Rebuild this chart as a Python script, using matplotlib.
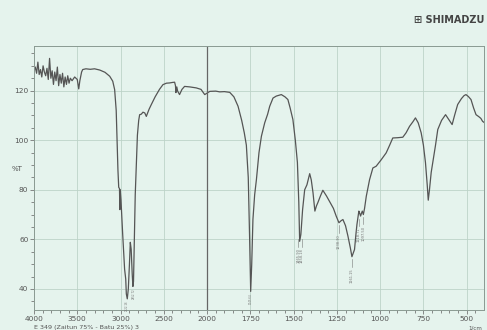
""" FTIR spectrum, Shimadzu style
"""

import matplotlib.pyplot as plt
import numpy as np

# wavenumber (1/cm) and transmittance (%T)
wavenumber = [4000, 3985, 3970, 3955, 3940, 3925, 3910, 3895, 3880, 3865,
              3850, 3835, 3820, 3805, 3790, 3775, 3760, 3745, 3730, 3715,
              3700, 3685, 3670, 3655, 3640, 3625, 3610, 3595, 3580, 3560,
              3530, 3500, 3483, 3470, 3450, 3437, 3400, 3350, 3300, 3240,
              3180, 3125, 3090, 3068, 3050, 3040, 3030, 3021, 3012, 3008,
              3004, 2995, 2975, 2953, 2940, 2933, 2922, 2910, 2897, 2887,
              2877, 2865, 2857, 2850, 2840, 2830, 2818, 2805, 2790, 2779,
              2760, 2741, 2720, 2702, 2670, 2644, 2600, 2550, 2510, 2470,
              2433, 2400, 2375, 2365, 2360, 2350, 2340, 2318, 2290, 2260,
              2200, 2125, 2070, 2027, 2000, 1984, 1950, 1927, 1900, 1869,
              1845, 1821, 1800, 1785, 1773, 1762, 1754, 1748, 1742, 1735,
              1725, 1715, 1700, 1686, 1667, 1650, 1638, 1619, 1600, 1571,
              1550, 1533, 1520, 1504, 1490, 1478, 1470, 1465, 1458, 1448,
              1436, 1423, 1407, 1398, 1388, 1377, 1368, 1360, 1345, 1331,
              1310, 1293, 1270, 1254, 1238, 1226, 1215, 1200, 1186, 1172,
              1163, 1155, 1148, 1140, 1134, 1123, 1118, 1113, 1108, 1103,
              1097, 1090, 1080, 1061, 1042, 1023, 995, 965, 945, 927,
              900, 869, 850, 830, 810, 796, 780, 763, 750, 738,
              728, 722, 715, 705, 696, 680, 667, 645, 622, 600,
              584, 570, 552, 530, 515, 504, 490, 475, 460, 446,
              430, 418, 408, 400]
transmittance = [128.0, 129.5, 127.0, 131.5, 126.5, 128.5, 125.5, 130.0, 127.5, 126.0,
                 129.0, 124.5, 133.0, 125.0, 128.0, 122.5, 127.5, 124.0, 129.5, 122.0,
                 126.5, 123.0, 127.0, 121.5, 125.5, 122.5, 126.0, 123.0, 125.0, 124.0,
                 125.5, 124.5, 120.7, 124.0, 127.5, 128.5, 128.8, 128.6, 128.8, 128.3,
                 127.4, 125.8, 123.8, 120.4, 112.0, 100.0, 88.0, 81.0, 80.5, 72.0,
                 80.0, 76.0, 62.0, 48.0, 44.0, 38.0, 36.0, 40.0, 50.0, 58.8,
                 56.0, 46.0, 41.0, 43.0, 60.0, 78.0, 90.0, 102.0, 108.0, 110.3,
                 110.5, 111.3, 111.0, 109.6, 112.5, 114.4, 117.5, 120.5, 122.4, 123.0,
                 123.1, 123.3, 123.4, 122.0, 119.2, 121.5, 119.8, 118.4, 120.5, 121.7,
                 121.5, 121.1, 120.5, 118.4, 119.0, 119.7, 119.8, 119.5, 119.6, 119.3,
                 117.5, 113.7, 108.0, 103.0, 98.0, 85.0, 60.0, 39.0, 50.0, 68.0,
                 78.0, 84.0, 95.0, 101.6, 107.0, 110.5, 113.7, 117.0, 117.8, 118.4,
                 117.5, 116.4, 113.0, 108.3, 100.0, 91.0, 75.0, 59.2, 62.0, 72.0,
                 80.0, 82.0, 86.5, 84.0, 78.9, 71.4, 73.5, 74.8, 77.5, 79.8,
                 77.5, 75.4, 72.5, 69.4, 66.7, 67.5, 68.0, 65.5, 61.3, 56.5,
                 53.0, 54.5, 55.9, 62.0, 66.0, 71.4, 70.5, 69.4, 70.5, 71.4,
                 70.0, 72.5, 77.4, 84.1, 88.8, 89.5, 92.0, 94.9, 98.0, 100.9,
                 101.0, 101.2, 103.0, 105.6, 107.5, 109.0, 107.0, 103.0, 98.0, 90.9,
                 82.0, 75.8, 80.0, 87.0, 90.9, 98.0, 104.3, 108.0, 110.3, 108.0,
                 106.3, 110.0, 114.4, 116.8, 118.0, 118.4, 117.6, 116.4, 113.0, 110.3,
                 109.5, 108.8, 107.6, 107.2]

# labelled peaks
peak_wn = [2922, 2852, 1745, 1472, 1452, 1238, 1163, 1122, 1097]
peak_t = [36.0, 41.0, 39.0, 61.0, 61.0, 66.7, 53.0, 69.4, 70.0]
peak_text = ['2922.16', '2852.72', '1745.64', '1465.90', '1458.18',
             '1238.30', '1161.15', '1118.71', '1097.50']

x_major = [4000, 3500, 3000, 2500, 2000, 1750, 1500, 1250, 1000, 750, 500]
y_major = [40, 60, 80, 100, 120]


def forward(x):
    x = np.asarray(x, dtype=float)
    return np.where(x >= 2000, x, 2000 - (2000 - x) * 2)


def inverse(p):
    p = np.asarray(p, dtype=float)
    return np.where(p >= 2000, p, 2000 - (2000 - p) / 2)


bg = '#e5f3ed'
fig = plt.figure(figsize=(4.87, 3.3), dpi=100, facecolor=bg)
ax = fig.add_axes([0.0698, 0.0606, 0.924, 0.8])
ax.set_facecolor(bg)

ax.set_xscale('function', functions=(forward, inverse))
ax.set_xlim(4000, 400)
ax.set_ylim(31.5, 138)

ax.plot(wavenumber, transmittance, color='#555555', lw=0.9)

for w, t, s in zip(peak_wn, peak_t, peak_text):
    if t < 45:
        # deep peaks: label squeezed between the tip and the bottom axis
        ax.text(w, t - 0.6, s, rotation=90, ha='center', va='top',
                fontsize=1.9, color='#777777')
    else:
        ax.plot([w, w], [t - 1, t - 4], color='#777777', lw=0.4)
        ax.text(w, t - 4.5, s, rotation=90, ha='center', va='top',
                fontsize=2.6, color='#777777')

ax.set_xticks(x_major)
ax.set_xticklabels([str(v) for v in x_major])
minor = list(range(3900, 2000, -100)) + list(range(1950, 400, -50))
ax.set_xticks(minor, minor=True)
ax.set_yticks(y_major)
ax.set_yticks(list(range(35, 138, 5)), minor=True)

ax.grid(True, which='major', color='#bdd3c8', lw=0.6)
ax.axvline(2000, color='#666666', lw=0.9)

ax.tick_params(axis='both', which='both', labelsize=5.3, colors='#777777',
               labelcolor='#555555', width=0.6)
ax.tick_params(axis='both', which='major', length=3, pad=1)
ax.tick_params(axis='both', which='minor', length=2)

for sp in ax.spines.values():
    sp.set_color('#8a9a92')
    sp.set_linewidth(0.7)

ax.text(-0.038, 0.535, '%T', transform=ax.transAxes, ha='center', va='center',
        fontsize=5, color='#555555')
ax.text(0.995, -0.06, '1/cm', transform=ax.transAxes, ha='right', va='top',
        fontsize=4, color='#555555')
fig.text(0.07, 0.001, 'E 349 (Zaitun 75% - Batu 25%) 3', ha='left', va='bottom',
         fontsize=4.6, color='#555555')
fig.text(0.995, 0.94, '\u229e SHIMADZU', ha='right', va='center',
         fontsize=7, fontweight='bold', color='#444444')

plt.savefig('out.png', dpi=100, facecolor=bg)
